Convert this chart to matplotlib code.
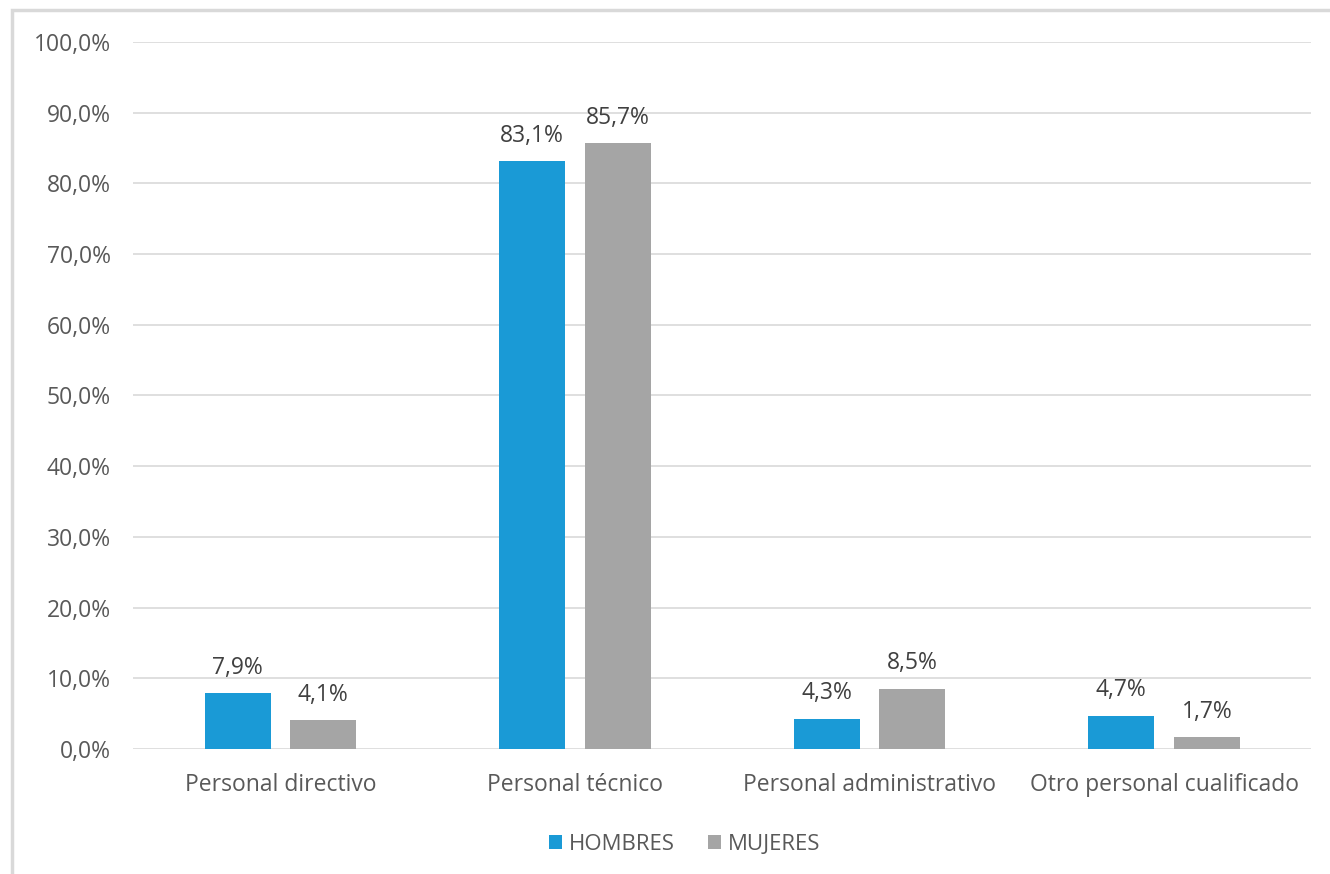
import numpy as np
from matplotlib import pyplot as plt
from matplotlib.patches import Rectangle

categorias = ['Personal directivo', 'Personal técnico', 'Personal administrativo', 'Otro personal cualificado']
hombres = [7.9, 83.1, 4.3, 4.7]
mujeres = [4.1, 85.7, 8.5, 1.7]
series = ['HOMBRES', 'MUJERES']
yticks = np.arange(0, 101, 10)

azul = '#1A9AD6'
gris = '#A5A5A5'
texto = '#595959'

plt.rcParams['font.family'] = ['Open Sans', 'DejaVu Sans']

fig = plt.figure(figsize = (13.3, 8.74), dpi = 100)
ax = fig.add_axes([0.1, 0.143, 0.886, 0.809])

# marco gris del grafico
fig.patches.append(Rectangle((12 / 1330, -0.05), 1.1, 0.05 + 1 - 10 / 874, transform = fig.transFigure,
                             fill = False, edgecolor = '#D9D9D9', linewidth = 2.5))

x = np.arange(len(categorias))
w = 0.224
off = 0.145

b1 = ax.bar(x - off, hombres, w, color = azul, label = series[0], zorder = 3)
b2 = ax.bar(x + off, mujeres, w, color = gris, label = series[1], zorder = 3)

for bars, vals in [(b1, hombres), (b2, mujeres)]:
  for b, v in zip(bars, vals):
    ax.text(b.get_x() + b.get_width() / 2, v + 1.9, '{:.1f}%'.format(v).replace('.', ','),
            ha = 'center', va = 'bottom', fontsize = 16.5, color = '#404040')

ax.set_xlim(-0.5, len(categorias) - 0.5)
ax.set_ylim(0, 100)
ax.set_yticks(yticks, labels = ['{:.1f}%'.format(t).replace('.', ',') for t in yticks])
ax.set_xticks(x, labels = categorias)
ax.tick_params(axis = 'both', length = 0, labelsize = 16.5, labelcolor = texto)
ax.tick_params(axis = 'y', pad = 16)
ax.tick_params(axis = 'x', pad = 17)

ax.grid(axis = 'y', color = '#D9D9D9', linewidth = 1.2, zorder = 0)
for s in ax.spines.values():
  s.set_visible(False)

# leyenda algo desplazada a la izquierda, como en el original
ax.legend(loc = 'center', bbox_to_anchor = (0.468, -0.135), ncol = 2, frameon = False,
          fontsize = 16, handlelength = 0.6, handleheight = 0.6, handletextpad = 0.3,
          columnspacing = 1.5, labelcolor = texto)

fig.savefig('out.png', dpi = 100)
